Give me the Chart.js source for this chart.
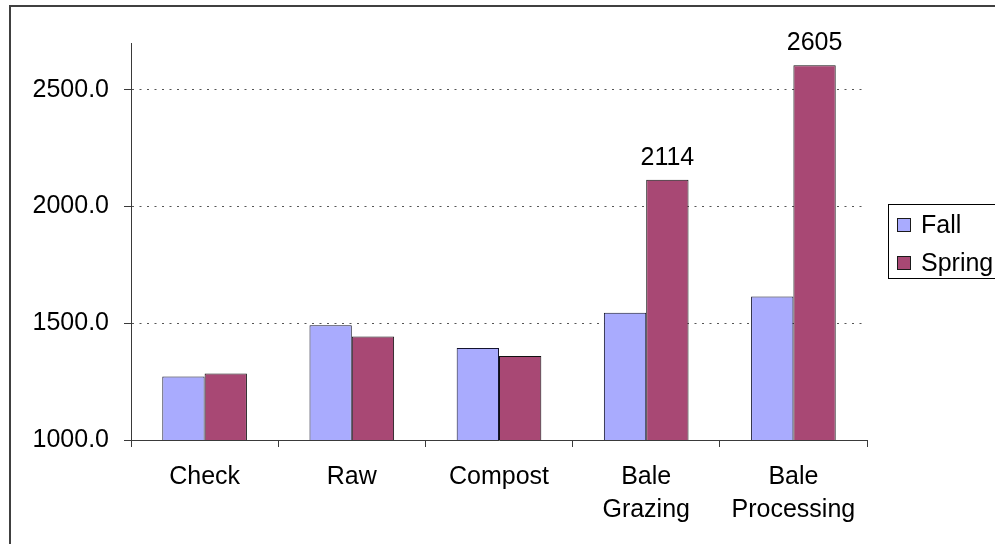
<!DOCTYPE html>
<html>
<head>
<meta charset="utf-8">
<script src="https://cdn.jsdelivr.net/npm/chart.js@4"></script>
<style>
  html, body { margin: 0; padding: 0; background: #fff; }
  #wrap { width: 995px; height: 544px; position: relative; }
</style>
</head>
<body>
<div id="wrap"><canvas id="c" width="995" height="544"></canvas></div>
<script>
// Treatments along the x axis (multi-line names are split into lines)
const categories = [['Check'], ['Raw'], ['Compost'], ['Bale', 'Grazing'], ['Bale', 'Processing']];
const fallValues = [1272, 1491, 1394, 1545, 1615];
const springValues = [1285, 1443, 1360, 2114, 2605];
// Spring bars that carry a value label
const springLabelled = [3, 4];
const yTicks = [1000, 1500, 2000, 2500];

const FONT = '"Liberation Sans", Arial, sans-serif';
const AXIS = '#3a3a3a';

// Frame around the whole chart
const framePlugin = {
  id: 'frame',
  afterDraw(chart) {
    const ctx = chart.ctx;
    ctx.save();
    ctx.strokeStyle = '#404040';
    ctx.lineWidth = 2;
    ctx.strokeRect(10, 6, 1100, 700);
    ctx.restore();
  }
};

// Value labels above selected Spring bars
const valueLabels = {
  id: 'valueLabels',
  afterDatasetsDraw(chart) {
    const ctx = chart.ctx;
    const meta = chart.getDatasetMeta(1);
    ctx.save();
    ctx.font = '25px ' + FONT;
    ctx.fillStyle = '#000';
    ctx.textAlign = 'center';
    ctx.textBaseline = 'middle';
    springLabelled.forEach(i => {
      const bar = meta.data[i];
      ctx.fillText(String(chart.data.datasets[1].data[i]), bar.x, bar.y - 22);
    });
    ctx.restore();
  }
};

// Boxed legend on the right
const sideLegend = {
  id: 'sideLegend',
  afterDraw(chart) {
    const ctx = chart.ctx;
    ctx.save();
    ctx.strokeStyle = '#000';
    ctx.lineWidth = 1;
    ctx.strokeRect(888.5, 204.5, 200, 74);
    ctx.font = '25px ' + FONT;
    ctx.textBaseline = 'middle';
    ctx.textAlign = 'left';
    chart.data.datasets.forEach((ds, i) => {
      const cy = 225 + i * 38;
      ctx.fillStyle = ds.backgroundColor;
      ctx.fillRect(897.5, cy - 6.5, 13, 13);
      ctx.strokeStyle = '#1a1a1a';
      ctx.strokeRect(897.5, cy - 6.5, 13, 13);
      ctx.fillStyle = '#000';
      ctx.fillText(ds.label, 921, cy + 1);
    });
    ctx.restore();
  }
};

new Chart(document.getElementById('c'), {
  type: 'bar',
  data: {
    labels: categories,
    datasets: [
      { label: 'Fall', data: fallValues, backgroundColor: '#A9ABFE', borderColor: '#14142e', borderWidth: 1 },
      { label: 'Spring', data: springValues, backgroundColor: '#A84874', borderColor: '#111', borderWidth: 1 }
    ]
  },
  options: {
    responsive: false,
    animation: false,
    devicePixelRatio: 1,
    layout: { padding: { left: 0, right: 128, top: 43, bottom: 0 } },
    datasets: { bar: { barPercentage: 1.0, categoryPercentage: 0.575 } },
    plugins: { legend: { display: false }, tooltip: { enabled: false } },
    scales: {
      x: {
        grid: { offset: true, drawOnChartArea: false, color: AXIS, tickLength: 7, tickColor: AXIS },
        border: { color: AXIS, width: 1 },
        ticks: { color: '#000', font: { family: FONT, size: 25, lineHeight: 1.3 }, padding: 14, maxRotation: 0, autoSkip: false },
        afterFit(scale) { scale.height = 104; }
      },
      y: {
        min: 1000,
        max: 2700,
        afterBuildTicks(scale) { scale.ticks = yTicks.map(v => ({ value: v })); },
        grid: {
          color: ctx => (ctx.tick && ctx.tick.value === 1000) ? 'rgba(0,0,0,0)' : '#555',
          tickColor: AXIS,
          tickLength: 7,
          tickBorderDash: [],
          lineWidth: 1
        },
        border: { color: AXIS, width: 1, dash: [2, 5.5] },
        ticks: {
          color: '#000',
          font: { family: FONT, size: 25 },
          padding: 15,
          callback: v => Number(v).toFixed(1)
        },
        afterFit(scale) { scale.width = 131; }
      }
    }
  },
  plugins: [framePlugin, valueLabels, sideLegend]
});
</script>
</body>
</html>
